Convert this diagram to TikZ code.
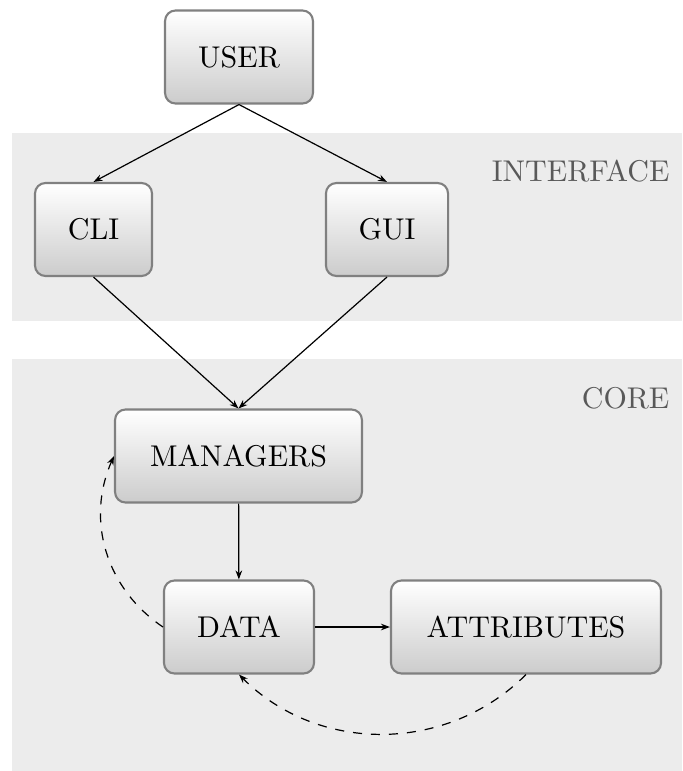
\documentclass[tikz,border=0pt]{standalone}
\usetikzlibrary{arrows.meta,shadings}
\begin{document}
\begin{tikzpicture}[x=0.3333pt,y=-0.3333pt,
  band/.style={fill=gray!15,draw=none},
  bandlabel/.style={anchor=base east,text=black!65,inner sep=0pt},
  box/.style={draw=gray,line width=0.7pt,rounded corners=3.5pt,top color=white,bottom color=gray!40,
    minimum height=31pt,inner xsep=6pt},
  conn/.style={-{Stealth[length=3pt,width=2.2pt]},line width=0.4pt},
  dconn/.style={conn,dashed}]
\useasboundingbox (0,0) rectangle (682,771);
\fill[band] (12,133) rectangle (682,321);
\fill[band] (12,359) rectangle (682,771);
\node[bandlabel] (lint) at (670,182) {INTERFACE};
\node[bandlabel] (lcore) at (670,409) {CORE};
\node[box,minimum width=49.3pt] (user) at (239,57) {USER};
\node[box,minimum width=39pt] (cli) at (93.5,229.5) {CLI};
\node[box,minimum width=40.7pt] (gui) at (387,229.5) {GUI};
\node[box,minimum width=82.3pt] (man) at (238.5,456) {MANAGERS};
\node[box,minimum width=50pt] (data) at (239,627) {DATA};
\node[box,minimum width=90pt] (attr) at (526,627) {ATTRIBUTES};
\draw[conn] (user.south) -- (cli.north);
\draw[conn] (user.south) -- (gui.north);
\draw[conn] (cli.south) -- (man.north);
\draw[conn] (gui.south) -- (man.north);
\draw[conn] (man) -- (data);
\draw[conn] (data) -- (attr);
\draw[dconn] (data.west) to[bend left=40] (man.west);
\draw[dconn] (attr.south) to[bend left=45] (data.south);
\end{tikzpicture}
\end{document}
